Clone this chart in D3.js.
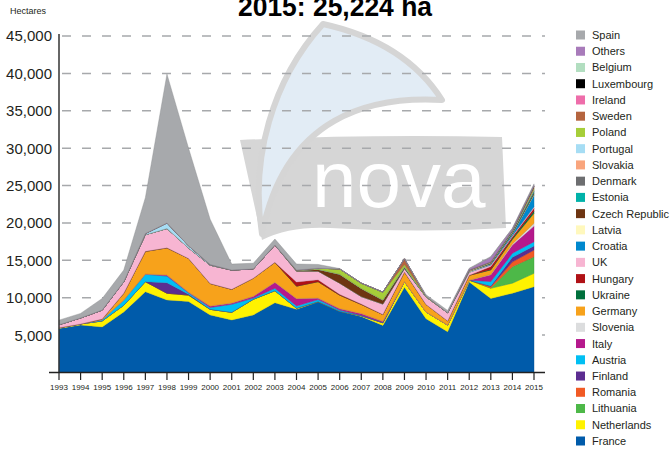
<!DOCTYPE html>
<html><head><meta charset="utf-8">
<script src="https://cdn.jsdelivr.net/npm/d3@7"></script>
<style>body{margin:0;background:#fff}svg{display:block}text{font-family:"Liberation Sans",Arial,sans-serif}</style>
</head><body><svg id="c" width="672" height="449"></svg>
<script>
const years = [1993,1994,1995,1996,1997,1998,1999,2000,2001,2002,2003,2004,2005,2006,2007,2008,2009,2010,2011,2012,2013,2014,2015];
const yTicks = [5000,10000,15000,20000,25000,30000,35000,40000,45000];
const title = "2015: 25,224 ha";
const yLabel = "Hectares";
// stack order bottom -> top
const countries = ["France","Netherlands","Lithuania","Romania","Finland","Austria","Italy","Slovenia","Germany","Ukraine","Hungary","UK","Croatia","Latvia","Czech Republic","Estonia","Denmark","Slovakia","Portugal","Poland","Sweden","Ireland","Luxembourg","Belgium","Others","Spain"];
const colors = ["#005BAA","#FFF200","#4DB848","#F15A24","#5C2D91","#00BFF3","#B5198C","#DCDDDE","#F7A21B","#00703C","#B01116","#F7B5D2","#0088CE","#FFF8BD","#6E3512","#00B2A9","#6D6E70","#F9A57D","#A6DDF4","#A6CE39","#B5653F","#EE6DAA","#000000","#B2DEC0","#A87BBA","#A7A9AC"];

const France        = [5900,6350,6100,8100,10800,9700,9500,7700,7020,7700,9330,8450,9450,8200,7500,6300,11400,7200,5450,12100,9900,10600,11470];
const Netherlands   = [100,150,800,900,1350,900,850,750,1030,2100,1610,150,50,0,100,350,750,900,900,250,1360,1350,1790];
const Lithuania     = [0,0,0,0,0,0,0,0,0,0,0,0,0,0,0,0,0,0,0,0,50,2200,2220];
const Romania       = [0,0,0,0,0,0,0,0,0,0,0,0,0,0,0,0,0,0,0,0,200,650,900];
const Finland       = [0,0,0,0,0,1400,100,0,0,0,0,0,0,0,0,0,0,0,0,0,50,600,530];
const Austria       = [0,0,150,700,980,900,200,250,1070,150,320,300,250,150,50,50,0,0,0,0,600,550,580];
const Italy         = [0,0,0,0,50,150,100,200,180,250,800,1000,200,200,250,150,0,0,0,0,900,1100,2100];
const Slovenia      = [0,0,0,0,0,0,0,0,0,0,0,0,0,0,0,0,0,0,0,0,50,150,360];
const Germany       = [0,0,100,900,3020,3620,4500,3000,1820,2410,2670,1650,2200,1800,1200,900,1300,1000,550,650,600,600,1340];
const Ukraine       = [0,0,0,0,0,0,0,0,0,0,0,0,0,0,0,0,0,0,0,0,50,150,300];
const Hungary       = [0,0,0,0,0,0,0,0,0,0,0,550,250,100,50,0,0,0,0,0,400,200,370];
const UK            = [400,800,1200,1550,2230,2580,1400,2450,2580,1250,2320,1450,1150,1500,1000,1400,450,1000,1100,400,200,150,200];
const Croatia       = [0,0,0,0,0,0,0,0,0,0,0,0,0,0,0,0,0,0,0,0,100,200,1570];
const Latvia        = [0,0,0,0,0,0,0,0,0,0,0,0,0,0,0,0,0,0,0,150,50,50,100];
const Czech         = [0,0,0,0,0,0,0,0,0,0,0,100,250,1200,1100,550,100,0,0,0,50,100,200];
const Estonia       = [0,0,0,0,0,0,0,0,0,0,0,0,0,0,0,0,0,0,0,0,50,100,200];
const Denmark       = [0,0,0,0,0,0,0,0,0,0,0,0,0,0,0,0,150,0,0,0,50,50,100];
const Slovakia      = [0,0,0,0,0,0,0,0,0,0,0,0,0,0,0,0,0,0,0,100,50,50,100];
const Portugal      = [0,0,0,0,150,750,300,100,0,0,0,0,0,0,0,0,0,0,0,0,0,50,50];
const Poland        = [0,0,0,0,0,0,0,0,0,0,0,50,150,700,700,1050,300,100,0,50,50,50,200];
const Sweden        = [0,0,0,0,0,0,0,0,0,0,0,0,0,0,0,0,750,0,0,0,50,50,150];
const Ireland       = [0,0,0,0,0,0,0,0,0,0,0,0,0,0,0,0,0,0,0,0,0,0,50];
const Luxembourg    = [0,0,0,0,0,0,0,0,0,0,0,0,0,0,0,0,0,0,0,0,0,0,50];
const Belgium       = [0,0,0,0,0,0,0,0,0,0,0,0,0,0,0,0,0,0,0,0,0,50,50];
const Others        = [0,0,0,0,0,0,0,0,0,0,0,0,0,0,0,0,0,0,0,150,600,200,100];
const Spain         = [600,600,1550,1550,4800,19900,13050,6050,800,750,800,800,500,50,0,0,0,200,300,100,100,50,144];

const series = [France,Netherlands,Lithuania,Romania,Finland,Austria,Italy,Slovenia,Germany,Ukraine,Hungary,UK,Croatia,Latvia,Czech,Estonia,Denmark,Slovakia,Portugal,Poland,Sweden,Ireland,Luxembourg,Belgium,Others,Spain];

const table = years.map((y,i)=>{const r={year:y};countries.forEach((c,k)=>r[c]=series[k][i]);return r;});

const svg = d3.select("#c");
const x = d3.scalePoint().domain(years).range([59,534]);
const y = d3.scaleLinear().domain([0,45000]).range([372.5,36]);

// watermark
const wm = svg.append("g");
wm.append("path").attr("d","M240,140 Q370,134 502,137 L506,228 Q420,233 330,228 Q290,226 262,240 Z").attr("fill","#D6D6D6");
wm.append("path").attr("d","M323,24 Q405,42 442,100 C372,96 285,115 262,234 C250,160 272,80 323,24 Z")
  .attr("fill","#E2ECF5").attr("stroke","#D5D5D5").attr("stroke-width",6).attr("stroke-linejoin","round");
wm.append("text").attr("x",312).attr("y",207).attr("font-size",80).attr("fill","#fff").text("nova");

// grid
svg.append("g").selectAll("line").data(yTicks).join("line")
  .attr("x1",62).attr("x2",545).attr("y1",d=>y(d)).attr("y2",d=>y(d))
  .attr("stroke","#A7A9AC").attr("stroke-width",1.5).attr("stroke-dasharray","9,11");

// areas
const stack = d3.stack().keys(countries)(table);
const area = d3.area().x(d=>x(d.data.year)).y0(d=>y(d[0])).y1(d=>y(d[1]));
svg.append("g").selectAll("path").data(stack).join("path")
  .attr("d",area).attr("fill",(d,i)=>colors[i])
  .attr("stroke",(d,i)=>d3.color(colors[i]).darker(0.6)).attr("stroke-width",0.4);

// axes
svg.append("line").attr("x1",59).attr("x2",59).attr("y1",34).attr("y2",373).attr("stroke","#333").attr("stroke-width",1.5);
svg.append("line").attr("x1",49).attr("x2",545).attr("y1",372.5).attr("y2",372.5).attr("stroke","#222").attr("stroke-width",1.5);
const xa = svg.append("g");
xa.selectAll("line").data(years).join("line").attr("x1",d=>x(d)).attr("x2",d=>x(d)).attr("y1",372).attr("y2",380).attr("stroke","#222").attr("stroke-width",1.2);
xa.selectAll("text").data(years).join("text").attr("x",d=>x(d)).attr("y",390).attr("text-anchor","middle").attr("font-size",8).attr("fill","#231F20").text(d=>d);
svg.append("g").selectAll("text").data(yTicks).join("text")
  .attr("x",52).attr("y",d=>y(d)).attr("dy","0.36em").attr("text-anchor","end").attr("font-size",15).attr("fill","#231F20")
  .text(d=>d3.format(",")(d));

svg.append("text").attr("x",10).attr("y",14).attr("font-size",9).attr("fill","#231F20").text(yLabel);
svg.append("text").attr("x",335).attr("y",16).attr("text-anchor","middle").attr("font-size",27).attr("font-weight","bold")
  .attr("textLength",194).attr("lengthAdjust","spacingAndGlyphs").attr("fill","#000").text(title);

// legend
const lg = svg.append("g");
const order = countries.slice().reverse();
const lcol = colors.slice().reverse();
lg.selectAll("rect").data(order).join("rect").attr("x",576).attr("y",(d,i)=>35+i*16.24-4.5).attr("width",9).attr("height",9).attr("fill",(d,i)=>lcol[i]);
lg.selectAll("text").data(order).join("text").attr("x",592).attr("y",(d,i)=>35+i*16.24).attr("dy","0.36em").attr("font-size",11).attr("fill","#231F20").text(d=>d);
</script></body></html>
